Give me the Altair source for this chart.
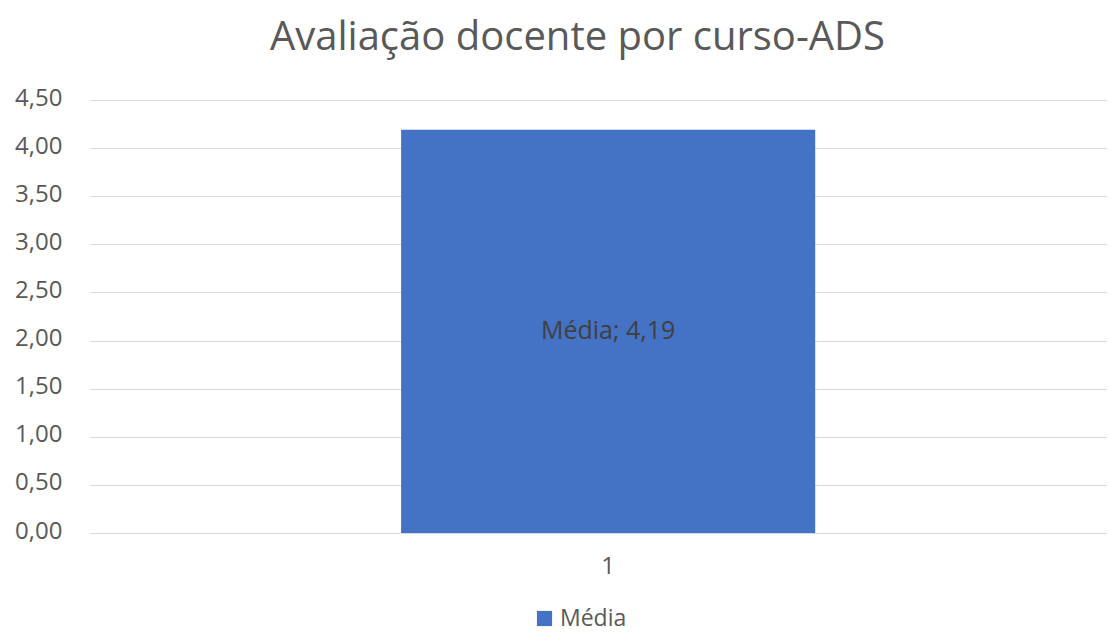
import altair as alt
import pandas as pd

categories = ["1"]
series_name = ["Média"]
values = [4.19]

df = pd.DataFrame({"cat": categories, "serie": series_name, "valor": values})
df["label"] = df["serie"] + "; " + df["valor"].map(lambda v: f"{v:.2f}".replace(".", ","))
df["mid"] = df["valor"] / 2

FONT = "Open Sans"
GRAY = "#595959"

base = alt.Chart(df)

bars = base.mark_bar(color="#4472C4").encode(
    x=alt.X("cat:N", title=None,
            scale=alt.Scale(paddingInner=0, paddingOuter=0.728, align=0.516),
            axis=alt.Axis(labelAngle=0, labelFontSize=24, labelColor=GRAY, labelFont=FONT,
                          ticks=False, domainColor="#d9d9d9", labelPadding=21, grid=False)),
    y=alt.Y("valor:Q", title=None,
            scale=alt.Scale(domain=[0, 4.5], nice=False),
            axis=alt.Axis(values=[0, 0.5, 1, 1.5, 2, 2.5, 3, 3.5, 4, 4.5],
                          labelExpr="replace(format(datum.value, '.2f'), '.', ',')",
                          labelFontSize=24, labelColor=GRAY, labelFont=FONT,
                          ticks=False, domain=False, labelPadding=28, labelOffset=-2,
                          gridColor="#d9d9d9", gridWidth=1)),
    color=alt.Color("serie:N", scale=alt.Scale(range=["#4472C4"]),
                    legend=alt.Legend(title=None, orient="none", legendX=443, legendY=507,
                                      symbolType="square", symbolSize=230,
                                      symbolStrokeWidth=0, symbolOffset=0,
                                      labelFontSize=23, labelColor=GRAY, labelFont=FONT)),
)

text = base.mark_text(fontSize=25, color="#404040", font=FONT).encode(
    x=alt.X("cat:N"),
    y=alt.Y("mid:Q"),
    text="label:N",
)

chart = (bars + text).properties(
    width=1017, height=433,
    autosize=alt.AutoSizeParams(type="none"),
    padding={"left": 82, "top": 92, "right": 0, "bottom": 101},
    title=alt.TitleParams("Avaliação docente por curso-ADS", fontSize=40, color=GRAY,
                          font=FONT, fontWeight="normal", anchor="middle", dx=-21, offset=28),
).configure_view(stroke=None)

chart.save("out.html", embed_options={"renderer": "svg", "actions": False})
